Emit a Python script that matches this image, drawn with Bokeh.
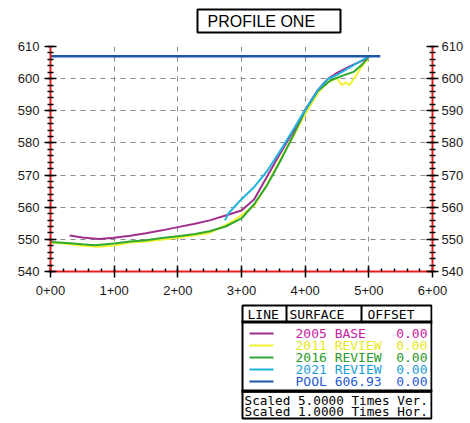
from bokeh.plotting import figure
from bokeh.layouts import column
from bokeh.models import LinearAxis, Range1d, FixedTicker
from bokeh.core.properties import value
from bokeh.embed import file_html
from bokeh.resources import INLINE

# ---------------- data (station in ft, elevation in ft) ----------------
base2005_sta = [30, 50, 76, 100, 125, 150, 175, 200, 225, 250, 275, 300,
                320, 340, 360, 380, 400, 420, 435, 450, 470, 490, 500]
base2005_elev = [551.2, 550.6, 550.1, 550.5, 551.1, 551.9, 552.8, 553.8, 554.8,
                 555.9, 557.4, 559.0, 562.5, 569.5, 576.5, 583.2, 590.3, 596.5,
                 599.8, 601.8, 603.8, 605.6, 606.9]

rev2011_sta = [0, 25, 50, 75, 100, 125, 150, 200, 250, 280, 300, 320, 340, 360,
               380, 400, 420, 435, 450, 457, 464, 470, 477, 490, 500]
rev2011_elev = [549.0, 548.6, 548.0, 547.7, 548.1, 549.0, 549.3, 550.5, 552.0,
                555.0, 557.5, 560.5, 567.0, 574.5, 581.5, 589.0, 595.5, 598.8,
                600.2, 598.0, 598.8, 598.0, 600.2, 604.0, 606.5]

rev2016_sta = [0, 25, 50, 70, 100, 125, 150, 175, 200, 225, 250, 275, 300, 320,
               340, 360, 380, 400, 420, 440, 460, 477, 490, 500]
rev2016_elev = [549.2, 548.9, 548.5, 548.2, 548.7, 549.3, 549.7, 550.4, 551.0,
                551.6, 552.5, 554.0, 556.5, 561.0, 566.8, 574.0, 581.8, 590.0,
                596.2, 599.5, 601.0, 602.2, 604.5, 606.8]

rev2021_sta = [274, 280, 300, 320, 340, 360, 380, 400, 420, 435, 450, 470, 490, 500]
rev2021_elev = [555.9, 558.2, 562.5, 566.3, 571.2, 577.3, 583.7, 590.2, 596.4,
                599.8, 601.2, 603.5, 605.8, 606.9]

pool_sta = [0, 518]
pool_elev = [606.93, 606.93]

x_ticks = [0, 100, 200, 300, 400, 500, 600]
x_tick_labels = ["0+00", "1+00", "2+00", "3+00", "4+00", "5+00", "6+00"]
y_ticks = [540, 550, 560, 570, 580, 590, 600, 610]

title_text = "PROFILE ONE"
legend_header = ["LINE", "SURFACE", "OFFSET"]
legend_names = ["2005 BASE", "2011 REVIEW", "2016 REVIEW", "2021 REVIEW", "POOL 606.93"]
legend_offsets = ["0.00", "0.00", "0.00", "0.00", "0.00"]
scale_notes = ["Scaled 5.0000 Times Ver.", "Scaled 1.0000 Times Hor."]
line_colors = ["#a0308c", "#f2f230", "#2ea82e", "#20b4dc", "#1f55a8"]
text_colors = ["#c8229e", "#e8e820", "#2a9a2a", "#1aa0d8", "#1f5ad8"]

W = 470
TOP_H = 38          # title strip: page y 0..38
MAIN_H = 262        # chart: page y 38..300
BOT_H = 123         # legend table: page y 300..423
FL, FR, FT, FB = 50, 432, 46, 271  # frame edges in page pixels


def blank(height, y0):
    """A figure whose frame lines up with the chart frame; data = page pixels."""
    f = figure(width=W, height=height, output_backend="svg", toolbar_location=None,
               x_range=Range1d(FL, FR), y_range=Range1d(y0 + height, y0),
               min_border_left=FL, min_border_right=W - FR,
               min_border_top=0, min_border_bottom=0,
               x_axis_location=None, y_axis_location=None)
    f.outline_line_color = None
    f.grid.visible = False
    f.background_fill_color = "white"
    f.border_fill_color = "white"
    return f


def frame_box(f, l, t, r, b, lw=2):
    f.quad(left=[l], right=[r], top=[t], bottom=[b], fill_color=None,
           line_color="black", line_width=lw)


def fill_box(f, l, t, r, b, color="black"):
    f.quad(left=[l], right=[r], top=[t], bottom=[b], fill_color=color,
           line_color=None)


def txt(f, s, x, y, color="black", size="13px", font="DejaVu Sans Mono",
        align="left"):
    f.text(x=[x], y=[y], text=[s], text_color=color, text_font_size=size,
           text_font=value(font), text_align=align, text_baseline="middle")


# ---------------- title strip ----------------
ptop = blank(TOP_H, 0)
frame_box(ptop, 197, 9, 340, 32)
txt(ptop, title_text, 207, 21, size="16px", font="Liberation Sans")

# ---------------- main chart ----------------
p = figure(width=W, height=MAIN_H, output_backend="svg", toolbar_location=None,
           x_range=Range1d(0, 600), y_range=Range1d(540, 610),
           min_border_left=FL, min_border_right=W - FR, min_border_top=FT - TOP_H,
           min_border_bottom=TOP_H + MAIN_H - FB,
           x_axis_location=None, y_axis_location=None)
p.outline_line_color = None
p.background_fill_color = "white"
p.border_fill_color = "white"


def style_axis(ax, minor_in, minor_out):
    ax.axis_line_color = "#ee1c1c"
    ax.axis_line_width = 2
    ax.major_tick_line_color = "black"
    ax.major_tick_line_width = 1.5
    ax.major_tick_in = 6
    ax.major_tick_out = 6
    ax.minor_tick_line_color = "black"
    ax.minor_tick_line_width = 1.5
    ax.minor_tick_in = minor_in
    ax.minor_tick_out = minor_out
    ax.major_label_text_font = "Liberation Sans"
    ax.major_label_text_font_size = "13px"
    ax.major_label_text_color = "#1a1a1a"


xax = LinearAxis(ticker=FixedTicker(ticks=x_ticks,
                                    minor_ticks=list(range(0, 601, 20))))
xax.major_label_overrides = dict(zip(x_ticks, x_tick_labels))
style_axis(xax, 3, 0)
xax.major_label_standoff = 8
p.add_layout(xax, "below")

yax = LinearAxis(ticker=FixedTicker(ticks=y_ticks,
                                    minor_ticks=list(range(540, 611, 2))))
style_axis(yax, 3, 3)
yax.major_label_standoff = 5
p.add_layout(yax, "left")

yax2 = LinearAxis(ticker=FixedTicker(ticks=y_ticks,
                                     minor_ticks=list(range(540, 611, 2))))
style_axis(yax2, 3, 3)
yax2.major_label_standoff = 3
p.add_layout(yax2, "right")

for g in (p.xgrid, p.ygrid):
    g.grid_line_color = "#8a8a8a"
    g.grid_line_dash = "5 5"
    g.grid_line_width = 1
p.xgrid.ticker = FixedTicker(ticks=x_ticks)
p.ygrid.ticker = FixedTicker(ticks=y_ticks)

p.line(rev2011_sta, rev2011_elev, line_color=line_colors[1], line_width=2)
p.line(rev2016_sta, rev2016_elev, line_color=line_colors[2], line_width=2)
p.line(base2005_sta, base2005_elev, line_color=line_colors[0], line_width=2)
p.line(rev2021_sta, rev2021_elev, line_color=line_colors[3], line_width=2)
p.line(pool_sta, pool_elev, line_color=line_colors[4], line_width=2.5)

# ---------------- legend table ----------------
pb = blank(BOT_H, TOP_H + MAIN_H)
frame_box(pb, 242, 305, 431, 391)
fill_box(pb, 285, 305, 287, 321)
fill_box(pb, 360, 305, 362, 321)
fill_box(pb, 241, 320, 432, 323)
fill_box(pb, 241, 389, 432, 392)
frame_box(pb, 242, 391, 431, 418)
for s, x in zip(legend_header, [247, 289, 367]):
    txt(pb, s, x, 314)
row_y = [333, 345, 357, 369, 381]
for name, off, lc, tc, yy in zip(legend_names, legend_offsets, line_colors,
                                 text_colors, row_y):
    fill_box(pb, 249, yy - 1, 273, yy + 1, color=lc)
    txt(pb, name, 295, yy, color=tc)
    txt(pb, off, 427, yy, color=tc, align="right")
for s, yy in zip(scale_notes, [400, 411]):
    txt(pb, s, 244, yy, size="12.7px")

layout = column(ptop, p, pb, spacing=0)
open("out.html", "w").write(file_html(layout, INLINE))
